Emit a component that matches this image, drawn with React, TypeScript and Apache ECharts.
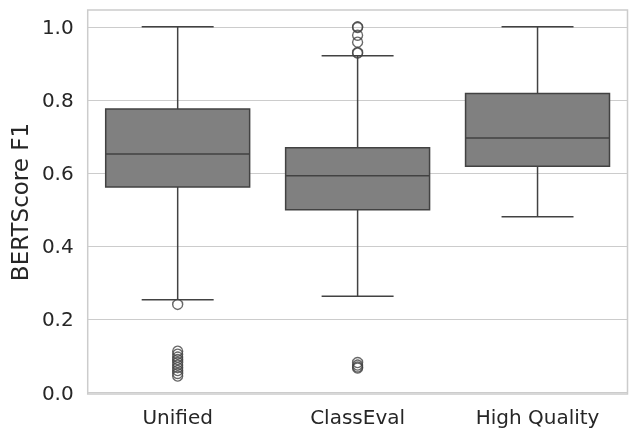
import React, { useEffect, useRef } from "react";
import * as echarts from "echarts";

const categories = ["Unified", "ClassEval", "High Quality"];
// [lowerWhisker, q1, median, q3, upperWhisker]
const boxStats = [
  [0.254, 0.562, 0.652, 0.775, 1.0],
  [0.263, 0.5, 0.593, 0.669, 0.921],
  [0.481, 0.619, 0.696, 0.818, 1.0],
];
const unifiedOutliers = [0.241, 0.113, 0.105, 0.097, 0.09, 0.082, 0.075, 0.068, 0.06, 0.052, 0.045];
const classEvalOutliers = [1.0, 0.998, 0.977, 0.958, 0.93, 0.928, 0.082, 0.075, 0.07, 0.067];
const highQualityOutliers: number[] = [];
const yTicks = [0, 0.2, 0.4, 0.6, 0.8, 1.0];

const LINE = "#424242";
const FILL = "#808080";
const FONT = "DejaVu Sans";

export default function App() {
  const ref = useRef<HTMLDivElement>(null);
  useEffect(() => {
    if (!ref.current) return;
    const chart = echarts.init(ref.current, null, { renderer: "svg" });
    const boxData = boxStats.map((s, i) => [i, ...s]);
    const outlierData: number[][] = [];
    [unifiedOutliers, classEvalOutliers, highQualityOutliers].forEach((arr, i) =>
      arr.forEach((v) => outlierData.push([i, v]))
    );
    chart.setOption({
      animation: false,
      grid: {
        left: 86,
        right: 10.5,
        top: 10,
        bottom: 44,
        show: true,
        borderColor: "#cccccc",
        borderWidth: 1.5,
        backgroundColor: "transparent",
      },
      xAxis: {
        type: "category",
        data: categories,
        boundaryGap: true,
        axisLine: { show: false },
        axisTick: { show: false },
        splitLine: { show: false },
        axisLabel: { color: "#262626", fontSize: 20, fontFamily: FONT, margin: 13 },
      },
      yAxis: {
        type: "value",
        min: -0.004,
        max: 1.046,
        name: "BERTScore F1",
        nameLocation: "middle",
        nameGap: 55,
        nameTextStyle: { color: "#262626", fontSize: 23, fontFamily: FONT },
        axisLine: { show: false },
        axisTick: { show: false, customValues: yTicks },
        axisLabel: {
          customValues: yTicks,
          color: "#262626",
          fontSize: 20,
          fontFamily: FONT,
          margin: 14,
          formatter: (v: number) => v.toFixed(1),
        },
        splitLine: { show: false },
      },
      series: [
        {
          type: "custom",
          data: boxData,
          encode: { x: 0, y: [1, 2, 3, 4, 5] },
          z: 3,
          markLine: {
            silent: true,
            symbol: "none",
            label: { show: false },
            lineStyle: { color: "#cccccc", width: 1.2, type: "solid" },
            z: 1,
            data: yTicks.map((t) => ({ yAxis: t })),
          },
          renderItem: (params: any, api: any) => {
            const idx = api.value(0);
            const low = api.coord([idx, api.value(1)]);
            const q1 = api.coord([idx, api.value(2)]);
            const med = api.coord([idx, api.value(3)]);
            const q3 = api.coord([idx, api.value(4)]);
            const high = api.coord([idx, api.value(5)]);
            const bw = api.size([1, 0])[0] * 0.8;
            const cw = bw / 2;
            const x = low[0];
            const ls = { stroke: LINE, lineWidth: 1.5 };
            return {
              type: "group",
              children: [
                { type: "line", shape: { x1: x, y1: q1[1], x2: x, y2: low[1] }, style: ls },
                { type: "line", shape: { x1: x, y1: q3[1], x2: x, y2: high[1] }, style: ls },
                { type: "line", shape: { x1: x - cw / 2, y1: low[1], x2: x + cw / 2, y2: low[1] }, style: ls },
                { type: "line", shape: { x1: x - cw / 2, y1: high[1], x2: x + cw / 2, y2: high[1] }, style: ls },
                {
                  type: "rect",
                  shape: { x: x - bw / 2, y: q3[1], width: bw, height: q1[1] - q3[1] },
                  style: { fill: FILL, stroke: LINE, lineWidth: 1.5 },
                },
                { type: "line", shape: { x1: x - bw / 2, y1: med[1], x2: x + bw / 2, y2: med[1] }, style: ls },
              ],
            };
          },
        },
        {
          type: "scatter",
          data: outlierData,
          symbol: "circle",
          symbolSize: 10,
          z: 4,
          itemStyle: { color: "rgba(255,255,255,0)", borderColor: LINE, borderWidth: 1.4 },
        },
      ],
    });
    return () => chart.dispose();
  }, []);
  return (
    <div
      ref={ref}
      style={{ position: "fixed", left: 0, top: 0, width: 638, height: 438 }}
    />
  );
}
